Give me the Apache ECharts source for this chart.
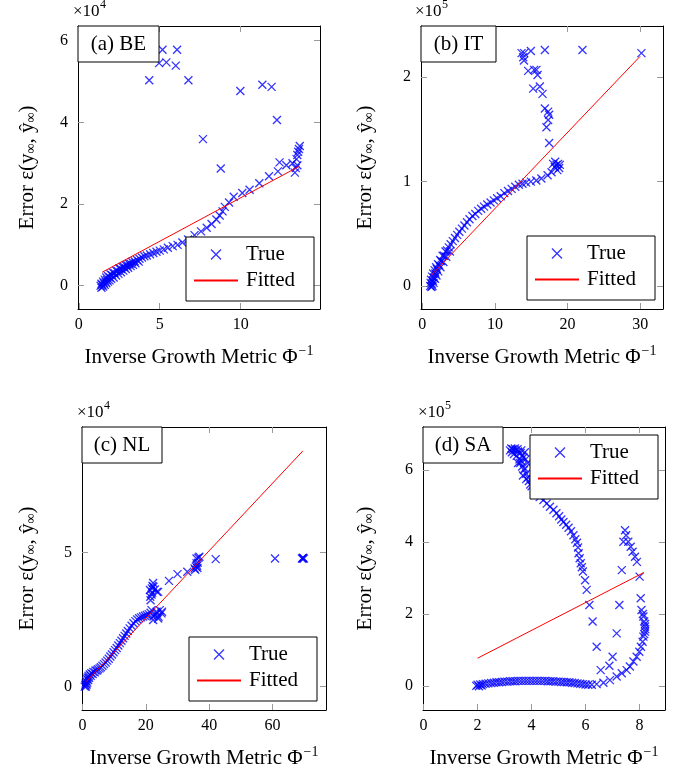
<!DOCTYPE html>
<html><head><meta charset="utf-8">
<script src="https://cdn.jsdelivr.net/npm/echarts@6/dist/echarts.min.js"></script>
<style>html,body{margin:0;padding:0;background:#fff}#c{width:695px;height:773px}</style>
</head><body><div id="c"></div>
<script>
// ---------- data (values in displayed units: ×10^4 / ×10^5) ----------
const panelTitles = ['(a) BE', '(b) IT', '(c) NL', '(d) SA'];
const scaleExponents = ['4', '5', '4', '5'];
const seriesNames = ['True', 'Fitted'];

const beXTicks = [0, 5, 10];
const beYTicks = [0, 2, 4, 6];
const itXTicks = [0, 10, 20, 30];
const itYTicks = [0, 1, 2];
const nlXTicks = [0, 20, 40, 60];
const nlYTicks = [0, 5];
const saXTicks = [0, 2, 4, 6, 8];
const saYTicks = [0, 2, 4, 6];

const beTrue = [
 [1.35,0.0],[1.4,0.05],[1.45,0.02],[1.5,0.1],[1.55,0.06],[1.6,0.15],[1.65,0.1],[1.7,0.2],[1.75,0.14],[1.8,0.24],
 [1.9,0.2],[1.95,0.28],[2.05,0.26],[2.1,0.32],[2.2,0.31],[2.3,0.37],[2.4,0.36],[2.5,0.42],[2.6,0.41],[2.7,0.46],
 [2.8,0.46],[2.9,0.5],[3.0,0.5],[3.1,0.54],[3.2,0.54],[3.3,0.58],[3.45,0.6],[3.6,0.63],[3.75,0.66],[3.9,0.69],
 [1.4,-0.05],[1.5,-0.02],[1.6,0.02],[1.7,0.06],[1.8,0.1],[1.9,0.13],[2.0,0.17],[2.15,0.2],[2.3,0.25],[2.45,0.29],
 [2.6,0.33],[2.75,0.37],[2.9,0.41],[3.05,0.44],[3.2,0.48],[3.35,0.51],[3.5,0.55],[3.7,0.59],
 [4.05,0.72],[4.2,0.74],[4.4,0.77],[4.6,0.8],[4.8,0.83],[5.0,0.86],[5.25,0.89],[5.5,0.93],[5.8,0.97],[6.1,1.0],
 [6.4,1.06],[6.75,1.13],[7.15,1.24],[7.55,1.33],[7.9,1.42],[8.2,1.51],[8.5,1.62],[8.7,1.72],[8.88,1.82],[9.02,1.93],
 [9.28,2.04],[9.57,2.18],[10.1,2.27],[10.55,2.35],[11.15,2.51],[11.75,2.68],[12.3,2.8],[12.4,3.02],[12.82,2.95],[13.2,3.0],
 [13.35,2.77],[13.4,2.88],[13.5,2.95],[13.45,3.1],[13.5,3.2],[13.55,3.28],[13.6,3.35],[13.65,3.42],
 [4.35,5.03],[4.96,5.45],[5.17,5.78],[5.41,5.47],[5.99,5.39],[6.07,5.78],[6.77,5.03],[7.67,3.59],[8.77,2.87],
 [9.98,4.77],[11.34,4.92],[11.91,4.87],[12.24,4.06]
];
const beFitted = [[1.44,0.33],[13.6,2.92]];

const itTrue = [
 [1.1,0.0],[1.15,0.03],[1.2,0.06],[1.3,0.02],[1.35,0.09],[1.45,0.05],[1.5,0.12],[1.6,0.08],[1.7,0.15],[1.8,0.12],
 [1.9,0.18],[2.0,0.16],[2.15,0.21],[2.3,0.2],[2.45,0.25],[2.6,0.24],[2.8,0.29],[3.0,0.29],[3.2,0.33],[3.4,0.34],
 [1.25,-0.01],[1.4,0.0],[1.55,0.03],[1.75,0.07],[1.95,0.1],[2.2,0.14],[2.5,0.18],[2.9,0.23],[3.3,0.28],[3.8,0.33],
 [3.65,0.37],[3.9,0.4],[4.2,0.43],[4.5,0.46],[4.8,0.49],[5.1,0.52],[5.45,0.55],[5.8,0.58],[6.15,0.61],[6.5,0.64],
 [6.9,0.67],[7.3,0.69],[7.7,0.72],[8.1,0.74],[8.5,0.76],[8.95,0.78],[9.4,0.8],[9.85,0.82],[10.3,0.84],[10.8,0.86],
 [11.3,0.89],[11.8,0.91],[12.3,0.93],[12.8,0.95],[13.3,0.97],[13.8,0.98],[14.3,0.99],[14.95,1.0],[15.7,1.01],[16.4,1.03],
 [17.26,1.06],[17.8,1.09],[18.25,1.14],[18.48,1.16],[18.71,1.17],[18.85,1.13],[18.94,1.16],[18.6,1.11],[18.3,1.19],[18.02,1.17],
 [17.47,1.37],[17.1,1.52],[17.33,1.59],[17.47,1.64],[17.33,1.67],[16.88,1.70],[16.56,1.84],[16.19,1.91],[15.27,1.89],[15.87,2.02],
 [15.72,2.07],[15.4,2.07],[14.58,2.06],[14.0,2.16],[13.9,2.19],[13.67,2.23],[14.03,2.23],[14.95,2.25],[16.88,2.26],[22.06,2.26],[30.18,2.23]
];
const itFitted = [[1.2,0.1],[30.0,2.2]];

const nlTrue = [
 [0.7,0.0],[0.9,0.05],[1.0,0.12],[1.1,0.0],[1.2,0.2],[1.3,0.08],[1.4,0.28],[1.5,0.15],[1.6,0.34],[1.8,0.25],
 [1.9,0.4],[2.1,0.33],[2.3,0.45],[2.6,0.4],[2.8,0.5],[3.2,0.47],[3.4,0.55],[3.9,0.53],[4.1,0.6],[4.6,0.6],
 [4.9,0.65],[5.4,0.68],[5.8,0.72],[6.3,0.78],[6.8,0.84],[7.3,0.9],[7.8,0.97],[8.3,1.04],[8.8,1.12],[9.3,1.2],
 [9.8,1.28],[10.3,1.36],[10.8,1.44],[11.3,1.53],[11.8,1.62],[12.3,1.71],[12.8,1.8],[13.3,1.89],[13.8,1.98],[14.3,2.07],
 [14.9,2.17],[15.5,2.27],[16.1,2.36],[16.7,2.44],[17.3,2.5],[17.9,2.55],[18.5,2.58],[19.1,2.61],[19.7,2.64],[20.3,2.67],[20.9,2.7],
 [21.5,2.75],[21.8,2.85],[22.3,2.48],[22.4,2.61],[22.85,2.67],[23.4,2.79],[23.5,2.73],[23.9,2.54],[24.0,2.6],[24.4,2.85],[24.95,2.73],[25.1,2.79],
 [21.3,3.60],[21.5,3.22],[21.4,3.35],[21.8,3.43],[21.9,3.66],[22.0,3.5],[22.1,3.75],[22.3,3.86],[22.4,3.72],[22.85,3.62],[23.5,3.53],[23.9,3.53],
 [27.3,3.94],[30.0,4.19],[33.1,4.28],
 [35.4,4.4],[35.6,4.35],[35.8,4.47],[36.0,4.59],[36.2,4.5],[36.3,4.42],[36.4,4.62],[36.0,4.77],[36.6,4.8],[36.9,4.84],
 [42.06,4.75],[60.8,4.77],[69.3,4.77],[69.6,4.77],[69.9,4.77],[69.6,4.8]
];
const nlFitted = [[1.23,0.19],[69.6,8.78]];

const saTrue = [
 [3.2,6.55],[3.27,6.5],[3.3,6.58],[3.35,6.45],[3.4,6.55],[3.45,6.4],[3.5,6.52],[3.55,6.3],[3.6,6.48],[3.58,6.2],
 [3.65,6.4],[3.65,6.1],[3.7,6.35],[3.72,6.0],[3.78,6.3],[3.8,5.9],[3.85,6.2],[3.86,5.8],[3.9,5.7],[3.95,5.6],
 [3.25,6.6],[3.38,6.6],[3.48,6.58],[3.62,6.55],[3.75,6.5],[3.5,6.2],[3.62,6.25],[3.75,6.05],[3.68,5.85],[3.8,5.75],
 [4.0,5.55],[4.1,5.45],[4.2,5.35],[4.3,5.25],
 [4.44,5.17],[4.56,5.07],[4.68,4.98],[4.81,4.9],[4.92,4.8],[5.02,4.72],[5.1,4.63],[5.18,4.56],[5.28,4.48],[5.37,4.4],
 [5.46,4.3],[5.55,4.19],[5.62,4.08],[5.68,3.98],[5.72,3.85],[5.74,3.69],[5.78,3.55],[5.82,3.41],[5.86,3.3],[5.9,3.18],
 [5.98,2.94],[6.04,2.67],[6.14,2.25],[6.26,1.79],[6.41,1.09],[6.56,0.44],
 [7.34,3.22],[7.25,2.25],[7.15,1.46],[7.0,0.81],[6.88,0.56],
 [7.46,4.33],[7.5,4.19],[7.4,4.01],[7.58,4.01],[7.67,3.87],[7.74,3.73],[7.83,3.59],[7.9,3.45],[8.0,3.04],[8.04,2.44],
 [8.07,2.11],[8.12,2.0],[8.14,1.93],[8.17,1.79],[8.2,1.72],[8.2,1.65],[8.21,1.58],[8.2,1.51],[8.17,1.44],[8.14,1.37],
 [8.11,1.23],[8.05,1.09],[7.99,0.95],[7.89,0.81],[7.77,0.68],[7.64,0.54],[7.52,0.44],[7.34,0.35],[7.15,0.26],[6.9,0.16],
 [6.66,0.09],[6.41,0.05],[6.23,0.03],
 [1.95,0.0],[2.0,0.03],[2.05,-0.01],[2.1,0.04],[2.15,0.01],[2.2,0.05],[2.3,0.06],[2.4,0.07],[2.5,0.08],[2.6,0.09],
 [2.7,0.1],[2.8,0.1],[2.9,0.11],[3.0,0.12],[3.1,0.12],[3.2,0.13],[3.3,0.13],[3.4,0.13],[3.5,0.14],[3.6,0.14],
 [3.7,0.14],[3.8,0.14],[3.9,0.14],[4.0,0.14],[4.1,0.14],[4.2,0.14],[4.3,0.14],[4.4,0.14],[4.5,0.14],[4.6,0.13],
 [4.7,0.13],[4.8,0.13],[4.9,0.12],[5.0,0.12],[5.1,0.11],[5.2,0.11],[5.3,0.1],[5.4,0.1],[5.5,0.09],[5.6,0.08],
 [5.7,0.07],[5.8,0.06],[5.9,0.05],[6.0,0.04],[6.1,0.03]
];
const saFitted = [[2.0,0.77],[8.15,3.15]];

// ---------- layout / style ----------
const FONT = 'Liberation Serif';
const CROSS = 'path://M0,0L10,10M10,0L0,10';
const LINE_ICON = 'path://M0,0L44,0L44,2L0,2Z';
const panels = [
  {grid:{left:78,top:26,width:242,height:283}, x:[-0.05,14.9], y:[-0.57,6.36], xt:beXTicks, yt:beYTicks, tr:beTrue, ft:beFitted, yGap:40,
   box:[78,26,81,36], mult:[73,12], leg:[186,237]},
  {grid:{left:421,top:26,width:242,height:283}, x:[-0.18,33.15], y:[-0.22,2.49], xt:itXTicks, yt:itYTicks, tr:itTrue, ft:itFitted, yGap:45,
   box:[421,26,75,36], mult:[415,12], leg:[527,236]},
  {grid:{left:82,top:427,width:244,height:283}, x:[-0.16,76.9], y:[-0.87,9.67], xt:nlXTicks, yt:nlYTicks, tr:nlTrue, ft:nlFitted, yGap:44,
   box:[82,427,80,36], mult:[77,413], leg:[189,637]},
  {grid:{left:423,top:427,width:242,height:283}, x:[-0.02,8.94], y:[-0.67,7.2], xt:saXTicks, yt:saYTicks, tr:saTrue, ft:saFitted, yGap:47,
   box:[423,427,80,36], mult:[418,413], leg:[530,435]}
];

const xName = '{t|Inverse Growth Metric Φ}{p|−1}';
const yName = '{t|Error ε(y}{s|∞}{t|, ŷ}{s|∞}{t|)}';
const nameRich = {
  t:{fontFamily:FONT, fontSize:21, color:'#000'},
  p:{fontFamily:FONT, fontSize:14, color:'#000', padding:[0,0,12,1]},
  s:{fontFamily:FONT, fontSize:14, color:'#000', padding:[8,0,0,0]}
};
const tickStyle = {color:'#9a9a9a', width:1};
const lineBox = {show:true, onZero:false, lineStyle:{color:'#000', width:1}};
const crossStyle = {color:'rgba(0,0,0,0)', borderColor:'#0000ff', borderWidth:1.3};

const grid = [], xAxis = [], yAxis = [], series = [], legend = [], graphic = [];
panels.forEach((p, i) => {
  grid.push(p.grid);
  xAxis.push({gridIndex:i, type:'value', position:'bottom', min:p.x[0], max:p.x[1],
    axisLine:lineBox, splitLine:{show:false},
    axisTick:{show:true, inside:true, length:6, customValues:p.xt, lineStyle:tickStyle},
    axisLabel:{customValues:p.xt, margin:8, fontFamily:FONT, fontSize:16, color:'#000'},
    name:xName, nameLocation:'middle', nameGap:35, nameTextStyle:{rich:nameRich}});
  xAxis.push({gridIndex:i, type:'value', position:'top', min:p.x[0], max:p.x[1],
    axisLine:lineBox, splitLine:{show:false},
    axisTick:{show:true, inside:true, length:6, customValues:p.xt, lineStyle:tickStyle},
    axisLabel:{show:false}});
  yAxis.push({gridIndex:i, type:'value', position:'left', min:p.y[0], max:p.y[1],
    axisLine:lineBox, splitLine:{show:false},
    axisTick:{show:true, inside:true, length:6, customValues:p.yt, lineStyle:tickStyle},
    axisLabel:{customValues:p.yt, margin:10, fontFamily:FONT, fontSize:16, color:'#000'},
    name:yName, nameLocation:'middle', nameGap:p.yGap, nameTextStyle:{rich:nameRich}});
  yAxis.push({gridIndex:i, type:'value', position:'right', min:p.y[0], max:p.y[1],
    axisLine:lineBox, splitLine:{show:false},
    axisTick:{show:true, inside:true, length:6, customValues:p.yt, lineStyle:tickStyle},
    axisLabel:{show:false}});
  series.push({name:seriesNames[0], type:'scatter', xAxisIndex:2*i, yAxisIndex:2*i, data:p.tr,
    symbol:CROSS, symbolSize:8, z:2, itemStyle:crossStyle, emphasis:{disabled:true}});
  series.push({name:seriesNames[1], type:'line', xAxisIndex:2*i, yAxisIndex:2*i, data:p.ft,
    symbol:'none', showSymbol:false, z:3,
    lineStyle:{color:'#ff0000', width:1}, emphasis:{disabled:true}});
  legend.push({orient:'vertical', left:p.leg[0], top:p.leg[1], z:10,
    backgroundColor:'#fff', borderColor:'#000', borderWidth:1, borderRadius:0,
    padding:[7,19,10,8], itemWidth:44, itemHeight:10, itemGap:5, selectedMode:false,
    textStyle:{fontFamily:FONT, fontSize:21, color:'#000', padding:[0,0,0,3]},
    data:[
      {name:seriesNames[0], icon:CROSS, itemStyle:crossStyle},
      {name:seriesNames[1], icon:LINE_ICON, itemStyle:{color:'#ff0000', borderWidth:0}}
    ]});
  graphic.push({type:'rect', z:20, shape:{x:p.box[0], y:p.box[1], width:p.box[2], height:p.box[3]},
    style:{fill:'#fff', stroke:'#000', lineWidth:1}});
  graphic.push({type:'text', z:21, x:p.box[0]+p.box[2]/2, y:p.box[1]+p.box[3]/2,
    style:{text:panelTitles[i], fontFamily:FONT, fontSize:21, fill:'#000', align:'center', verticalAlign:'middle'}});
  graphic.push({type:'text', z:21, x:p.mult[0], y:p.mult[1],
    style:{text:'×10', fontFamily:FONT, fontSize:17, fill:'#000', align:'left', verticalAlign:'middle'}});
  graphic.push({type:'text', z:21, x:p.mult[0]+27, y:p.mult[1]-7,
    style:{text:scaleExponents[i], fontFamily:FONT, fontSize:12, fill:'#000', align:'left', verticalAlign:'middle'}});
});

const chart = echarts.init(document.getElementById('c'), null, {renderer:'canvas'});
chart.setOption({animation:false, backgroundColor:'#fff', grid, xAxis, yAxis, series, legend, graphic});
</script></body></html>
